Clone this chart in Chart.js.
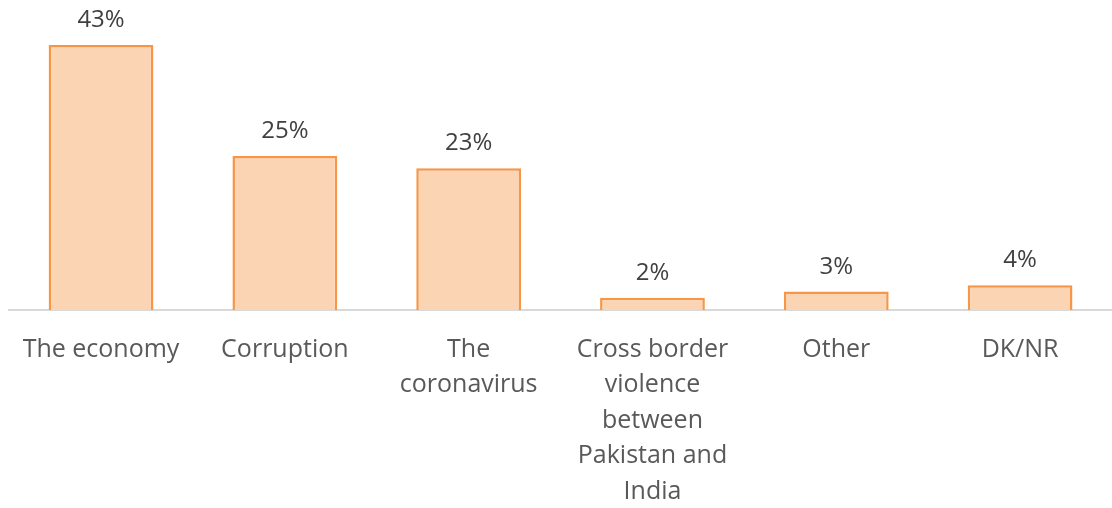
<!DOCTYPE html>
<html>
<head>
<meta charset="utf-8">
<script src="https://cdn.jsdelivr.net/npm/chart.js@4"></script>
<style>
  html, body { margin: 0; padding: 0; background: #fff; }
  #wrap { width: 1112px; height: 508px; }
</style>
</head>
<body>
<div id="wrap"><canvas id="c" width="1112" height="508"></canvas></div>
<script>
const categories = [
  ['The economy'],
  ['Corruption'],
  ['The', 'coronavirus'],
  ['Cross border', 'violence', 'between', 'Pakistan and', 'India'],
  ['Other'],
  ['DK/NR']
];
const values = [43, 25, 23, 2, 3, 4];
const valueLabels = ['43%', '25%', '23%', '2%', '3%', '4%'];

const FONT = "'Open Sans', 'Noto Sans', sans-serif";

// draw the percent labels above each bar
const barLabels = {
  id: 'barLabels',
  afterDatasetsDraw(chart) {
    const ctx = chart.ctx;
    const meta = chart.getDatasetMeta(0);
    ctx.save();
    ctx.font = '24px ' + FONT;
    ctx.fillStyle = '#404040';
    ctx.textAlign = 'center';
    ctx.textBaseline = 'alphabetic';
    meta.data.forEach((bar, i) => {
      ctx.fillText(valueLabels[i], bar.x, bar.y - 18);
    });
    ctx.restore();
  }
};

new Chart(document.getElementById('c').getContext('2d'), {
  type: 'bar',
  data: {
    labels: categories,
    datasets: [{
      data: values,
      backgroundColor: '#fbd4b4',
      borderColor: '#f79646',
      borderWidth: 2.5,
      borderSkipped: 'bottom',
      categoryPercentage: 0.57,
      barPercentage: 1
    }]
  },
  options: {
    responsive: false,
    animation: false,
    layout: { padding: { left: 8, right: 0, top: 2, bottom: 0 } },
    plugins: {
      legend: { display: false },
      tooltip: { enabled: false }
    },
    scales: {
      x: {
        afterFit(scale) { scale.height = 198; },
        grid: { display: false, drawTicks: false },
        border: { display: true, color: '#d9d9d9', width: 2 },
        ticks: {
          color: '#595959',
          font: { family: FONT, size: 25, lineHeight: 1.42 },
          padding: 22,
          maxRotation: 0,
          autoSkip: false
        }
      },
      y: {
        display: false,
        min: 0,
        max: 50
      }
    }
  },
  plugins: [barLabels]
});
</script>
</body>
</html>
